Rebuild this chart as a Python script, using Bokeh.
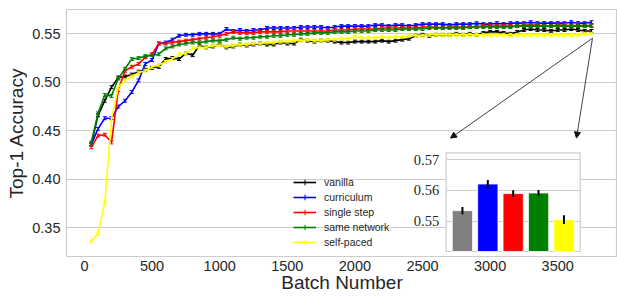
import numpy as np
from bokeh.plotting import figure
from bokeh.models import (Range1d, FixedTicker, NumeralTickFormatter, Legend, LegendItem,
                          Arrow, NormalHead)
from bokeh.embed import file_html
from bokeh.resources import INLINE

# ---------------- data ----------------
batches = list(range(50, 3800, 50))

vanilla = [0.436, 0.466, 0.481, 0.495, 0.505, 0.506, 0.508, 0.511, 0.513, 0.515,
           0.516, 0.524, 0.525, 0.524, 0.530, 0.528, 0.538, 0.536, 0.537, 0.539,
           0.536, 0.537, 0.539, 0.538, 0.539, 0.540, 0.539, 0.539, 0.541, 0.540,
           0.540, 0.544, 0.543, 0.542, 0.543, 0.543, 0.542, 0.541, 0.541, 0.542,
           0.542, 0.542, 0.542, 0.543, 0.542, 0.543, 0.544, 0.545, 0.548, 0.549,
           0.548, 0.549, 0.549, 0.549, 0.550, 0.549, 0.550, 0.549, 0.551, 0.552,
           0.552, 0.551, 0.550, 0.552, 0.554, 0.555, 0.554, 0.554, 0.553, 0.554,
           0.554, 0.555, 0.554, 0.553, 0.553]

curriculum = [0.436, 0.452, 0.463, 0.463, 0.475, 0.481, 0.490, 0.502, 0.519, 0.523,
              0.540, 0.541, 0.544, 0.548, 0.549, 0.549, 0.550, 0.550, 0.550, 0.550,
              0.555, 0.553, 0.554, 0.553, 0.554, 0.554, 0.556, 0.556, 0.556, 0.556,
              0.556, 0.557, 0.557, 0.557, 0.557, 0.556, 0.557, 0.558, 0.558, 0.558,
              0.558, 0.558, 0.559, 0.559, 0.558, 0.559, 0.559, 0.558, 0.559, 0.560,
              0.560, 0.560, 0.560, 0.559, 0.560, 0.560, 0.560, 0.561, 0.560, 0.560,
              0.561, 0.560, 0.561, 0.561, 0.561, 0.562, 0.561, 0.561, 0.561, 0.561,
              0.561, 0.562, 0.561, 0.561, 0.562]

single_step = [0.433, 0.445, 0.446, 0.438, 0.492, 0.512, 0.516, 0.519, 0.526, 0.529,
               0.540, 0.540, 0.541, 0.542, 0.543, 0.544, 0.545, 0.546, 0.547, 0.548,
               0.550, 0.552, 0.551, 0.551, 0.551, 0.552, 0.552, 0.552, 0.552, 0.553,
               0.553, 0.553, 0.553, 0.553, 0.553, 0.553, 0.554, 0.554, 0.554, 0.555,
               0.555, 0.555, 0.555, 0.556, 0.556, 0.556, 0.556, 0.556, 0.556, 0.557,
               0.557, 0.557, 0.556, 0.557, 0.557, 0.557, 0.557, 0.557, 0.558, 0.558,
               0.558, 0.558, 0.558, 0.558, 0.559, 0.559, 0.559, 0.558, 0.558, 0.559,
               0.559, 0.558, 0.559, 0.558, 0.559]

same_network = [0.438, 0.468, 0.487, 0.486, 0.504, 0.514, 0.524, 0.525, 0.527, 0.528,
                0.529, 0.535, 0.537, 0.539, 0.540, 0.541, 0.541, 0.542, 0.543, 0.543,
                0.544, 0.546, 0.545, 0.546, 0.546, 0.547, 0.547, 0.548, 0.548, 0.549,
                0.549, 0.550, 0.550, 0.551, 0.551, 0.551, 0.552, 0.552, 0.552, 0.553,
                0.553, 0.553, 0.554, 0.554, 0.554, 0.554, 0.555, 0.555, 0.555, 0.555,
                0.556, 0.556, 0.556, 0.556, 0.556, 0.556, 0.557, 0.557, 0.557, 0.557,
                0.557, 0.557, 0.557, 0.558, 0.558, 0.558, 0.558, 0.558, 0.558, 0.558,
                0.558, 0.558, 0.558, 0.558, 0.558]

self_paced = [0.336, 0.344, 0.376, 0.462, 0.495, 0.502, 0.506, 0.510, 0.512, 0.516,
              0.518, 0.521, 0.524, 0.529, 0.530, 0.535, 0.536, 0.536, 0.538, 0.538,
              0.537, 0.538, 0.539, 0.539, 0.540, 0.540, 0.541, 0.541, 0.542, 0.542,
              0.543, 0.543, 0.544, 0.543, 0.543, 0.544, 0.544, 0.545, 0.545, 0.547,
              0.546, 0.546, 0.546, 0.547, 0.546, 0.547, 0.547, 0.548, 0.548, 0.548,
              0.549, 0.549, 0.549, 0.549, 0.549, 0.549, 0.549, 0.549, 0.549, 0.549,
              0.549, 0.549, 0.549, 0.549, 0.549, 0.549, 0.549, 0.549, 0.549, 0.549,
              0.549, 0.549, 0.549, 0.550, 0.550]

series_names = ["vanilla", "curriculum", "single step", "same network", "self-paced"]
series_values = [vanilla, curriculum, single_step, same_network, self_paced]
series_colors = ["#000000", "#0000ff", "#ff0000", "#008000", "#ffff00"]
series_err = [0.0015, 0.0015, 0.0015, 0.0015, 0.0015]

x_ticks = [0, 500, 1000, 1500, 2000, 2500, 3000, 3500]
y_ticks = [0.35, 0.40, 0.45, 0.50, 0.55]

# inset (final accuracy)
inset_values = [0.5535, 0.5621, 0.5590, 0.5592, 0.5506]
inset_err = [0.0012, 0.0013, 0.0011, 0.0010, 0.0014]
inset_colors = ["#808080", "#0000ff", "#ff0000", "#008000", "#ffff00"]
inset_ticks = [0.55, 0.56, 0.57]
inset_tick_labels = ["0.55", "0.56", "0.57"]

# annotation arrows (data coordinates of the main axes)
arrow_start = (3757, 0.5455)
arrow_ends = [(2707, 0.4425), (3639, 0.4425)]

FONT = "Liberation Sans"
TXT = "#262626"
GRID = "#cccccc"

# ---------------- main figure ----------------
p = figure(width=617, height=296, output_backend="svg", toolbar_location=None,
           x_range=Range1d(-133, 3942), y_range=Range1d(0.3204, 0.5751),
           min_border_left=66, min_border_right=0, min_border_top=9, min_border_bottom=40)
p.background_fill_color = "white"
p.border_fill_color = "white"
p.outline_line_color = GRID
p.outline_line_width = 1.2
p.xgrid.visible = False
p.ygrid.grid_line_color = GRID
p.ygrid.grid_line_width = 1

p.xaxis.ticker = FixedTicker(ticks=x_ticks)
p.yaxis.ticker = FixedTicker(ticks=y_ticks)
p.yaxis.formatter = NumeralTickFormatter(format="0.00")
p.xaxis.axis_label = "Batch Number"
p.yaxis.axis_label = "Top-1 Accuracy"
for ax in (p.xaxis[0], p.yaxis[0]):
    ax.axis_line_color = None
    ax.major_tick_line_color = None
    ax.minor_tick_line_color = None
    ax.major_tick_out = 0
    ax.major_tick_in = 0
    ax.major_label_text_font = FONT
    ax.major_label_text_font_size = "14.5px"
    ax.major_label_text_color = TXT
    ax.axis_label_text_font = FONT
    ax.axis_label_text_font_style = "normal"
    ax.axis_label_text_font_size = "19px"
    ax.axis_label_text_color = TXT
p.yaxis.major_label_standoff = 6
p.yaxis.axis_label_standoff = 2
p.xaxis.major_label_standoff = 4
p.xaxis.axis_label_standoff = -2

legend_items = []
for name, vals, col, err in zip(series_names, series_values, series_colors, series_err):
    v = np.array(vals)
    p.segment(x0=batches, x1=batches, y0=v - err, y1=v + err, line_color=col, line_width=1)
    p.scatter(x=batches, y=v - err, marker="dash", size=4, line_color=col, line_width=1)
    p.scatter(x=batches, y=v + err, marker="dash", size=4, line_color=col, line_width=1)
    lr = p.line(x=batches, y=vals, line_color=col, line_width=1.6)
    # zero-size markers: invisible on the plot, give the legend its error-bar cross
    mr = p.scatter(x=batches, y=vals, marker="cross", size=0, line_color=col, line_width=1)
    legend_items.append(LegendItem(label=name, renderers=[lr, mr]))

legend = Legend(items=legend_items, location=(227, 7),
                glyph_width=23, glyph_height=14, label_height=14, spacing=1,
                label_standoff=8, padding=0, margin=0,
                border_line_color=None, background_fill_alpha=0,
                label_text_font=FONT, label_text_font_size="10.5px", label_text_color=TXT)
p.add_layout(legend)

# ---------------- inset ----------------
ix0, ix1 = -0.64, 4.64
iy0, iy1 = 0.54032, 0.57216
sub = p.subplot(x_source=Range1d(ix0, ix1), y_source=Range1d(iy0, iy1),
                x_target=Range1d(2675, 3666), y_target=Range1d(0.32557, 0.42732))
sub.quad(left=[ix0], right=[ix1], bottom=[iy0], top=[iy1],
         fill_color="white", line_color=GRID, line_width=1.2)
sub.segment(x0=[ix0] * len(inset_ticks), x1=[ix1] * len(inset_ticks),
            y0=inset_ticks, y1=inset_ticks, line_color=GRID, line_width=1)
idx = list(range(len(inset_values)))
sub.vbar(x=idx, top=inset_values, bottom=iy0, width=0.8,
         fill_color=inset_colors, line_color="white", line_width=0.8)
iv = np.array(inset_values)
ie = np.array(inset_err)
sub.segment(x0=idx, x1=idx, y0=iv - ie, y1=iv + ie, line_color="black", line_width=2)
sub.text(x=[ix0] * len(inset_ticks), y=inset_ticks, text=inset_tick_labels,
         x_offset=-7, text_align="right", text_baseline="middle",
         text_font=FONT, text_font_size="14.5px", text_color=TXT)

for (xe, ye) in arrow_ends:
    p.add_layout(Arrow(end=NormalHead(size=6, fill_color="#111111", line_color="#111111"),
                       x_start=arrow_start[0], y_start=arrow_start[1],
                       x_end=xe, y_end=ye, line_color="#111111", line_width=0.8))

open("out.html", "w").write(file_html(p, INLINE))
